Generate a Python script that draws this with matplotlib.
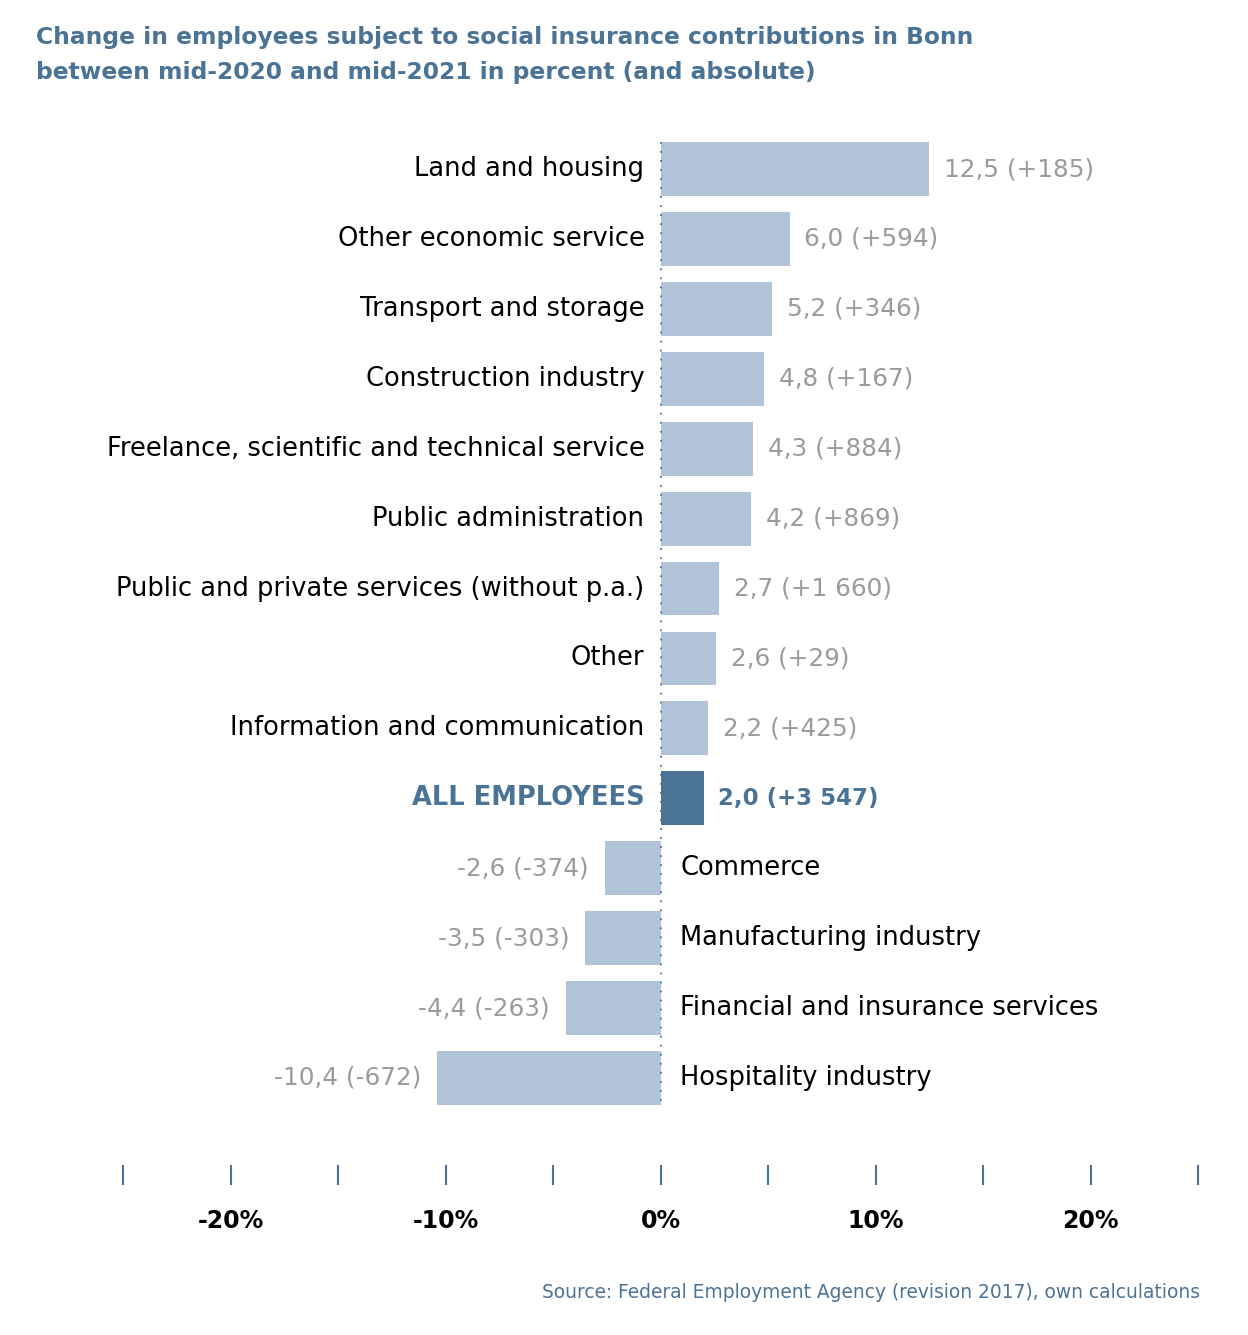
import matplotlib
matplotlib.use("Agg")
import matplotlib.pyplot as plt

# data, top to bottom
categories = ["Land and housing", "Other economic service", "Transport and storage",
              "Construction industry", "Freelance, scientific and technical service",
              "Public administration", "Public and private services (without p.a.)",
              "Other", "Information and communication", "ALL EMPLOYEES",
              "Commerce", "Manufacturing industry", "Financial and insurance services",
              "Hospitality industry"]
pct = [12.5, 6.0, 5.2, 4.8, 4.3, 4.2, 2.7, 2.6, 2.2, 2.0, -2.6, -3.5, -4.4, -10.4]
absolute = [185, 594, 346, 167, 884, 869, 1660, 29, 425, 3547, -374, -303, -263, -672]
xticks = [-25, -20, -15, -10, -5, 0, 5, 10, 15, 20, 25]
xticklabels = ["", "-20%", "", "-10%", "", "0%", "", "10%", "", "20%", ""]

BLUE = "#4a7396"
LIGHT = "#b1c4d7"
GREY = "#9b9b9b"
plt.rcParams['font.family'] = ['DejaVu Sans']

W, H = 1248, 1335
fig = plt.figure(figsize=(W / 100, H / 100), dpi=100)
# axes: x -25..25 -> px 123..1198, y px 130..1165
ax = fig.add_axes([123 / W, 1 - 1165 / H, 1075 / W, 1035 / H])


def fmt(v, a):
    s = f"{v:.1f}".replace(".", ",")
    n = f"{abs(a):,}".replace(",", " ")
    sign = "+" if a >= 0 else "-"
    return f"{s} ({sign}{n})"


ypos = list(range(len(categories)))
colors = [BLUE if c == "ALL EMPLOYEES" else LIGHT for c in categories]
bar_h = 0.77
ax.barh(ypos, pct, height=bar_h, color=colors, zorder=2)
# dotted zero line over the bar range
ax.vlines(0, -bar_h / 2, len(categories) - 1 + bar_h / 2, colors=BLUE,
          linestyles=(0, (1, 4)), lw=1.3, zorder=3)

for y, c, v, a in zip(ypos, categories, pct, absolute):
    is_all = c == "ALL EMPLOYEES"
    if v >= 0:
        ax.annotate(c, (0, y), xytext=(-16, 0), textcoords="offset pixels",
                    ha="right", va="center", fontsize=18.5,
                    color=BLUE if is_all else "black",
                    fontweight="bold" if is_all else "normal")
        ax.annotate(fmt(v, a), (v, y), xytext=(15, 0), textcoords="offset pixels",
                    ha="left", va="center", fontsize=16.5 if is_all else 17.8,
                    color=BLUE if is_all else GREY, fontweight="bold" if is_all else "normal")
    else:
        ax.annotate(c, (0, y), xytext=(20, 0), textcoords="offset pixels",
                    ha="left", va="center", fontsize=18.5, color="black")
        ax.annotate(fmt(v, a), (v, y), xytext=(-16, 0), textcoords="offset pixels",
                    ha="right", va="center", fontsize=17.8, color=GREY)

ax.set_xlim(-25, 25)
ax.set_ylim(14.245, -0.558)
ax.set_xticks(xticks)
ax.set_xticklabels(xticklabels, fontsize=17, fontweight="bold")
ax.tick_params(axis="x", direction="out", length=14.4, width=1.5, color=BLUE, pad=17)
ax.set_yticks([])
for s in ax.spines.values():
    s.set_visible(False)

fig.text(36 / W, 1 - 55 / H,
         "Change in employees subject to social insurance contributions in Bonn\n"
         "between mid-2020 and mid-2021 in percent (and absolute)",
         ha="left", va="center", fontsize=16.8, fontweight="bold", color=BLUE, linespacing=1.7)
fig.text(1200 / W, 1 - 1292 / H, "Source: Federal Employment Agency (revision 2017), own calculations",
         ha="right", va="center", fontsize=13.4, color=BLUE)

fig.savefig("out.png", dpi=100, facecolor="white")
